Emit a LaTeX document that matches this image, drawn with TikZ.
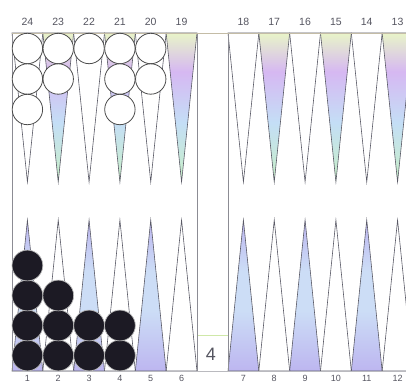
\documentclass[tikz,border=0pt]{standalone}
\usepackage{fontspec}
\setsansfont{Liberation Sans}
\usepackage{xcolor}
\usetikzlibrary{positioning}

\definecolor{pointline}{HTML}{5A5A66}
\definecolor{frameline}{HTML}{8C8C94}
\definecolor{topline}{HTML}{C4BCA6}
\definecolor{numgray}{HTML}{555560}
\definecolor{chkblack}{HTML}{1C1A24}
\definecolor{cubegreen}{HTML}{CFE8A8}
\definecolor{ptyellow}{HTML}{E8F4C8}
\definecolor{ptpurple}{HTML}{D6B8F2}
\definecolor{ptblue}{HTML}{C4DEF6}
\definecolor{ptgreen}{HTML}{C8F0C6}
\definecolor{ptlav}{HTML}{BDB6F0}
\definecolor{ptsky}{HTML}{CCDDF6}

% shadings for the coloured points
\pgfdeclareverticalshading{toppoint}{100bp}{color(0bp)=(ptgreen); color(25bp)=(ptgreen);
  color(45bp)=(ptblue); color(62bp)=(ptpurple); color(75bp)=(ptyellow); color(100bp)=(ptyellow)}
\pgfdeclareverticalshading{botpoint}{100bp}{color(0bp)=(ptlav); color(25bp)=(ptlav);
  color(45bp)=(ptsky); color(58bp)=(ptsky); color(75bp)=(ptlav); color(100bp)=(ptlav)}

\begin{document}
\begin{tikzpicture}[x=1pt, y=-1pt,
  point/.style={draw=pointline, line width=0.6pt},
  whitechk/.style={fill=white, draw=gray!60!black, line width=0.8pt},
  blackchk/.style={fill=chkblack, draw=gray!55, line width=0.7pt},
  numlabel/.style={font=\sffamily\fontsize{10.5}{12}\selectfont, text=numgray, inner sep=0pt}]
\path[use as bounding box] (0,0) rectangle (406,385);
\clip (0,0) rectangle (406,385);
\def\w{30.83}

% upper points 24-19 and 18-13
\foreach \h/\s in {12/24, 228/18}{
  \foreach \i in {0,...,5}{
    \pgfmathsetmacro\a{\h+\i*\w}
    \pgfmathsetmacro\b{\a+\w}
    \pgfmathsetmacro\c{\a+\w/2}
    \pgfmathtruncatemacro\n{\s-\i}
    \ifodd\i
      \shade[point, shading=toppoint] (\a,33) -- (\c,182) -- (\b,33) -- cycle;
    \else
      \draw[point, fill=white] (\a,33) -- (\c,182) -- (\b,33) -- cycle;
    \fi
    \node[numlabel] (n\n) at (\c,22) {\n};
  }
}

% lower points 1-6 and 7-12
\foreach \h/\s in {12/1, 228/7}{
  \foreach \i in {0,...,5}{
    \pgfmathsetmacro\a{\h+\i*\w}
    \pgfmathsetmacro\b{\a+\w}
    \pgfmathsetmacro\c{\a+\w/2}
    \pgfmathtruncatemacro\n{\s+\i}
    \ifodd\i
      \draw[point, fill=white] (\a,371) -- (\c,220) -- (\b,371) -- cycle;
    \else
      \shade[point, shading=botpoint] (\a,371) -- (\c,220) -- (\b,371) -- cycle;
    \fi
    \node[numlabel, font=\sffamily\fontsize{9}{10}\selectfont] (n\n) at (\c,378.5) {\n};
  }
}

% frame and bar
\draw[frameline, line width=0.7pt] (12,371) -- (12,33);
\draw[frameline, line width=0.7pt] (197,33) -- (197,371);
\draw[frameline, line width=0.7pt] (228,33) -- (228,371);
\draw[topline, line width=0.9pt] (12,33) -- (406,33);
\draw[frameline!60, line width=0.7pt] (12,371) -- (406,371);

% white checkers
\foreach \i/\k in {0/3, 1/2, 2/1, 3/3, 4/2}{
  \foreach \j in {1,...,\k}{
    \draw[whitechk] (12+\i*\w+\w/2, 48.5+\j*30.5-30.5) circle (15.2pt);
  }
}

% black checkers
\foreach \i/\k in {0/4, 1/3, 2/2, 3/2}{
  \foreach \j in {1,...,\k}{
    \draw[blackchk] (12+\i*\w+\w/2, 355.5-\j*30+30) circle (15.4pt);
  }
}

% doubling cube
\draw[cubegreen, line width=0.9pt] (197.5,335) -- (227.5,335);
\node[font=\sffamily\fontsize{18}{20}\selectfont, text=numgray, inner sep=0pt] (cube) at (211,354) {4};
\end{tikzpicture}
\end{document}
